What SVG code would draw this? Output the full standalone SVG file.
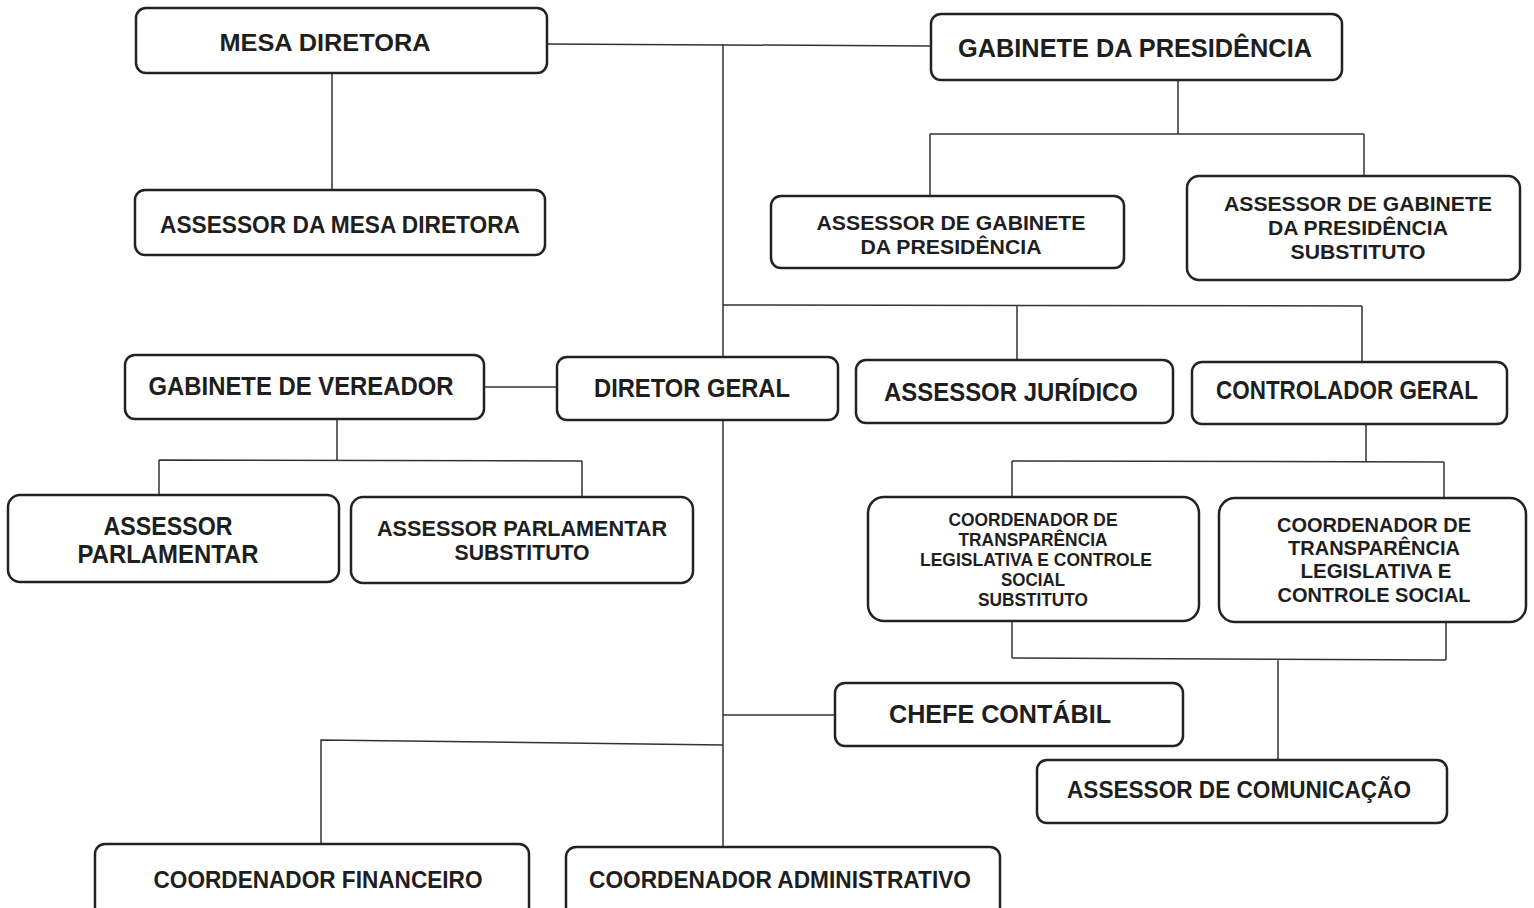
<svg xmlns="http://www.w3.org/2000/svg" width="1534" height="908" viewBox="0 0 1534 908">
<style>
.box{fill:#fff;stroke:#222;stroke-width:2.5}
.ln{fill:none;stroke:#333;stroke-width:1.5}
text{font-family:"Liberation Sans",Arial,sans-serif;font-weight:bold;fill:#1e1e1e;text-anchor:middle}
</style>
<rect width="1534" height="908" fill="#fff"/>
<g id="connectors">
<path class="ln" d="M547 44 L931 46"/>
<path class="ln" d="M723 44 L723 357"/>
<path class="ln" d="M723 420 L723 847"/>
<path class="ln" d="M332 73 L332 190"/>
<path class="ln" d="M1178 80 L1178 134 M930 134 L1364 134 M930 134 L930 196 M1364 134 L1364 176"/>
<path class="ln" d="M723 305 L1362 306 M1017 306 L1017 360 M1362 306 L1362 362"/>
<path class="ln" d="M484 387 L557 387"/>
<path class="ln" d="M337 419 L337 460 M159 460 L582 461 M159 460 L159 495 M582 461 L582 497"/>
<path class="ln" d="M1366 424 L1366 462 M1012 461 L1444 462 M1012 461 L1012 497 M1444 462 L1444 498"/>
<path class="ln" d="M1012 621 L1012 658 M1446 622 L1446 660 M1012 658 L1446 660 M1278 659 L1278 760"/>
<path class="ln" d="M723 715 L835 715"/>
<path class="ln" d="M723 745 L321 740 L321 844"/>
</g>
<g id="mesa-diretora"><rect class="box" x="136" y="8" width="411" height="65" rx="10"/><text x="325" y="51" font-size="24" textLength="211" lengthAdjust="spacingAndGlyphs">MESA DIRETORA</text></g>
<g id="gabinete-presidencia"><rect class="box" x="931" y="14" width="411" height="66" rx="10"/><text x="1135" y="57" font-size="26" textLength="354" lengthAdjust="spacingAndGlyphs">GABINETE DA PRESIDÊNCIA</text></g>
<g id="assessor-mesa"><rect class="box" x="135" y="190" width="410" height="65" rx="10"/><text x="340" y="233" font-size="23" textLength="360" lengthAdjust="spacingAndGlyphs">ASSESSOR DA MESA DIRETORA</text></g>
<g id="assessor-gabinete"><rect class="box" x="771" y="196" width="353" height="72" rx="10"/><text x="951" y="230" font-size="21" textLength="269" lengthAdjust="spacingAndGlyphs">ASSESSOR DE GABINETE</text><text x="951" y="254" font-size="21" textLength="181" lengthAdjust="spacingAndGlyphs">DA PRESIDÊNCIA</text></g>
<g id="assessor-gabinete-substituto"><rect class="box" x="1187" y="176" width="333" height="104" rx="12"/><text x="1358" y="211" font-size="21" textLength="268" lengthAdjust="spacingAndGlyphs">ASSESSOR DE GABINETE</text><text x="1358" y="235" font-size="21" textLength="180" lengthAdjust="spacingAndGlyphs">DA PRESIDÊNCIA</text><text x="1358" y="259" font-size="21" textLength="135" lengthAdjust="spacingAndGlyphs">SUBSTITUTO</text></g>
<g id="gabinete-vereador"><rect class="box" x="125" y="355" width="359" height="64" rx="10"/><text x="301" y="395" font-size="26" textLength="305" lengthAdjust="spacingAndGlyphs">GABINETE DE VEREADOR</text></g>
<g id="diretor-geral"><rect class="box" x="557" y="357" width="281" height="63" rx="10"/><text x="692" y="397" font-size="26" textLength="196" lengthAdjust="spacingAndGlyphs">DIRETOR GERAL</text></g>
<g id="assessor-juridico"><rect class="box" x="856" y="360" width="317" height="63" rx="10"/><text x="1011" y="401" font-size="25" textLength="254" lengthAdjust="spacingAndGlyphs">ASSESSOR JURÍDICO</text></g>
<g id="controlador-geral"><rect class="box" x="1192" y="362" width="315" height="62" rx="10"/><text x="1347" y="399" font-size="25" textLength="262" lengthAdjust="spacingAndGlyphs">CONTROLADOR GERAL</text></g>
<g id="assessor-parlamentar"><rect class="box" x="8" y="495" width="331" height="87" rx="12"/><text x="168" y="535" font-size="25" textLength="129" lengthAdjust="spacingAndGlyphs">ASSESSOR</text><text x="168" y="563" font-size="25" textLength="181" lengthAdjust="spacingAndGlyphs">PARLAMENTAR</text></g>
<g id="assessor-parlamentar-substituto"><rect class="box" x="351" y="497" width="342" height="86" rx="12"/><text x="522" y="536" font-size="22" textLength="290" lengthAdjust="spacingAndGlyphs">ASSESSOR PARLAMENTAR</text><text x="522" y="560" font-size="22" textLength="135" lengthAdjust="spacingAndGlyphs">SUBSTITUTO</text></g>
<g id="coordenador-transparencia-substituto"><rect class="box" x="868" y="497" width="331" height="124" rx="16"/><text x="1033" y="526" font-size="18" font-weight="normal" textLength="169" lengthAdjust="spacingAndGlyphs">COORDENADOR DE</text><text x="1033" y="546" font-size="18" font-weight="normal" textLength="149" lengthAdjust="spacingAndGlyphs">TRANSPARÊNCIA</text><text x="1036" y="566" font-size="18" font-weight="normal" textLength="232" lengthAdjust="spacingAndGlyphs">LEGISLATIVA E CONTROLE</text><text x="1033" y="586" font-size="18" font-weight="normal" textLength="64" lengthAdjust="spacingAndGlyphs">SOCIAL</text><text x="1033" y="606" font-size="18" font-weight="normal" textLength="110" lengthAdjust="spacingAndGlyphs">SUBSTITUTO</text></g>
<g id="coordenador-transparencia"><rect class="box" x="1219" y="498" width="307" height="124" rx="16"/><text x="1374" y="532" font-size="21" textLength="194" lengthAdjust="spacingAndGlyphs">COORDENADOR DE</text><text x="1374" y="555" font-size="21" textLength="172" lengthAdjust="spacingAndGlyphs">TRANSPARÊNCIA</text><text x="1376" y="578" font-size="21" textLength="151" lengthAdjust="spacingAndGlyphs">LEGISLATIVA E</text><text x="1374" y="602" font-size="21" textLength="193" lengthAdjust="spacingAndGlyphs">CONTROLE SOCIAL</text></g>
<g id="chefe-contabil"><rect class="box" x="835" y="683" width="348" height="63" rx="10"/><text x="1000" y="723" font-size="26" textLength="222" lengthAdjust="spacingAndGlyphs">CHEFE CONTÁBIL</text></g>
<g id="assessor-comunicacao"><rect class="box" x="1037" y="760" width="410" height="63" rx="10"/><text x="1239" y="798" font-size="23" textLength="344" lengthAdjust="spacingAndGlyphs">ASSESSOR DE COMUNICAÇÃO</text></g>
<g id="coordenador-financeiro"><rect class="box" x="95" y="844" width="434" height="80" rx="10"/><text x="318" y="888" font-size="23" textLength="329" lengthAdjust="spacingAndGlyphs">COORDENADOR FINANCEIRO</text></g>
<g id="coordenador-administrativo"><rect class="box" x="566" y="847" width="434" height="80" rx="10"/><text x="780" y="888" font-size="23" textLength="382" lengthAdjust="spacingAndGlyphs">COORDENADOR ADMINISTRATIVO</text></g>
</svg>
